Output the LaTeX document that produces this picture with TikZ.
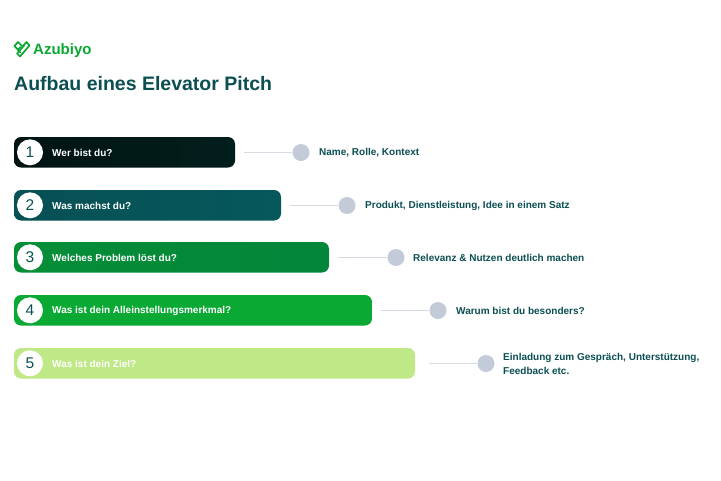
\documentclass[tikz,border=0pt]{standalone}
\usepackage{fontspec}
\setmainfont{Liberation Sans}
\definecolor{ink}{HTML}{0B4F52}
\definecolor{dot}{HTML}{C3CBD8}
\definecolor{wire}{HTML}{D5DAE3}
\definecolor{brand}{HTML}{0AA832}
\definecolor{aL}{HTML}{001412}\definecolor{aR}{HTML}{021E1C}
\definecolor{bL}{HTML}{075055}\definecolor{bR}{HTML}{05585C}
\definecolor{cL}{HTML}{068E37}\definecolor{cR}{HTML}{03853A}
\definecolor{dL}{HTML}{09A933}\definecolor{dR}{HTML}{09A933}
\definecolor{eL}{HTML}{BFE887}\definecolor{eR}{HTML}{BFE887}
\tikzset{
  x=1pt,y=-1pt,
  numdisc/.style={circle,fill=white,minimum size=26pt,inner sep=0pt,font=\fontsize{15.5}{16}\selectfont,text=ink},
  qtext/.style={anchor=west,inner sep=0pt,text=white,font=\bfseries\fontsize{10}{12}\selectfont},
  atext/.style={anchor=west,inner sep=0pt,text=ink,font=\bfseries\fontsize{10}{13.5}\selectfont,align=left},
  enddot/.style={circle,fill=dot,minimum size=17pt,inner sep=0pt},
  wireline/.style={draw=wire,line width=1.6pt},
  logoline/.style={draw=brand,line width=1.7pt,line join=round,line cap=round}
}
\begin{document}
\begin{tikzpicture}
\useasboundingbox (0,0) rectangle (721,480);
\fill[white] (0,0) rectangle (721,480);
% logo
\draw[logoline] (14.5,46) -- (18,42) -- (22.5,46.5) -- (26.5,42) -- (29.5,45.5) -- (20,56.5) -- (17,53.5) -- (24.5,45);
\draw[logoline] (14.5,46) -- (20.5,52.5);
\draw[logoline] (18,49.5) -- (20.5,47);
\node[anchor=west,inner sep=0pt,text=brand,font=\bfseries\fontsize{15}{15}\selectfont] (brandname) at (33,50.5) {Azubiyo};
\node[anchor=west,inner sep=0pt,text=ink,font=\bfseries\fontsize{19.5}{20}\selectfont] (title) at (14,84) {Aufbau eines Elevator Pitch};
% rows: id / top / right / colour / question / wire start / dot x / answer x / answer
\foreach \id/\top/\rgt/\col/\ques/\wst/\dx/\ax/\ans in {
 1/137/235/a/{Wer bist du?}/244/301/319/{Name, Rolle, Kontext},
 2/190/281/b/{Was machst du?}/290/347/365/{Produkt, Dienstleistung, Idee in einem Satz},
 3/242/329/c/{Welches Problem löst du?}/338/396/413/{Relevanz \& Nutzen deutlich machen},
 4/295/372/d/{Was ist dein Alleinstellungsmerkmal?}/381/438/456/{Warum bist du besonders?},
 5/348/415/e/{Was ist dein Ziel?}/429/486/503/{Einladung zum Gespräch, Unterstützung,\\Feedback etc.}}
{
 \path[rounded corners=7pt,left color=\col L,right color=\col R] (14,\top) rectangle (\rgt,\top+30.5);
 \node[numdisc] (num\id) at (30,\top+15.3) {\id};
 \node[qtext] (q\id) at (52,\top+16) {\ques};
 \coordinate (start\id) at (\wst,\top+15.5);
 \node[enddot] (dot\id) at (\dx,\top+15.5) {};
 \draw[wireline] (start\id) -- (dot\id);
 \node[atext] (ans\id) at (\ax,\top+16) {\ans};
}
\end{tikzpicture}
\end{document}
